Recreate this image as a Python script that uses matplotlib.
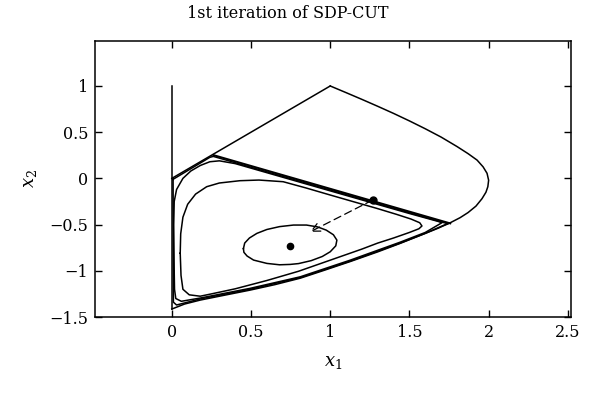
import matplotlib
matplotlib.use("Agg")
import matplotlib.pyplot as plt

plt.rcParams['font.family'] = ['DejaVu Serif']
plt.rcParams['mathtext.fontset'] = 'dejavuserif'

# Outer feasible region boundary
left_x = [0.0, 0.0]
left_y = [1.0, -1.414]
upper_x = [0.0, 1.0]
upper_y = [0.0, 1.0]
outer_x = [1.0, 1.1, 1.2, 1.3, 1.4, 1.5, 1.6, 1.7, 1.8, 1.87, 1.927, 1.965, 1.99, 2.0,
           1.995, 1.983, 1.958, 1.92, 1.87, 1.82, 1.76, 1.68, 1.6, 1.442, 1.3, 1.126, 0.97,
           0.811, 0.65, 0.494, 0.33, 0.179, 0.08, 0.0]
outer_y = [1.0, 0.928, 0.855, 0.78, 0.703, 0.622, 0.537, 0.447, 0.345, 0.268, 0.198, 0.125,
           0.055, -0.02, -0.09, -0.15, -0.22, -0.30, -0.37, -0.425, -0.478, -0.54, -0.595,
           -0.703, -0.795, -0.90, -0.99, -1.08, -1.15, -1.209, -1.265, -1.317, -1.36, -1.414]

# The cut
cut_x = [0.263, 1.758]
cut_y = [0.252, -0.487]

# Contours of the barrier inside the reduced region
c1_x = [0.008, 0.24, 0.262, 1.72, 1.745, 1.72, 1.6, 1.442, 1.126, 0.811, 0.494, 0.179, 0.03, 0.01, 0.008]
c1_y = [-0.01, 0.228, 0.238, -0.48, -0.49, -0.505, -0.595, -0.70, -0.895, -1.073, -1.20, -1.305, -1.37, -1.34, -0.01]
c2_x = [0.015, 0.012, 0.015, 0.03, 0.07, 0.12, 0.18, 0.24, 0.30, 0.40, 1.0, 1.5, 1.68, 1.705,
        1.69, 1.6, 1.442, 1.126, 0.811, 0.494, 0.179, 0.06, 0.025, 0.017, 0.015]
c2_y = [-1.0, -0.5, -0.25, -0.12, 0.0, 0.08, 0.14, 0.18, 0.19, 0.16, -0.135, -0.38, -0.465, -0.48,
        -0.495, -0.585, -0.69, -0.885, -1.065, -1.19, -1.295, -1.33, -1.30, -1.2, -1.0]
c3_x = [0.053, 0.056, 0.07, 0.10, 0.15, 0.22, 0.30, 0.43, 0.55, 0.703, 0.85, 1.0, 1.15, 1.295,
        1.42, 1.51, 1.565, 1.579, 1.56, 1.50, 1.40, 1.30, 1.2, 1.0, 0.8, 0.6, 0.4, 0.25, 0.179,
        0.11, 0.07, 0.058, 0.053]
c3_y = [-0.81, -0.60, -0.42, -0.28, -0.17, -0.09, -0.05, -0.025, -0.018, -0.036, -0.105, -0.18,
        -0.254, -0.325, -0.39, -0.44, -0.48, -0.515, -0.545, -0.585, -0.645, -0.70, -0.765, -0.885,
        -1.005, -1.105, -1.195, -1.25, -1.275, -1.26, -1.2, -1.05, -0.81]
c4_x = [0.452, 0.46, 0.49, 0.537, 0.60, 0.68, 0.768, 0.85, 0.92, 0.975, 1.02, 1.042, 1.035, 1.0,
        0.95, 0.88, 0.80, 0.747, 0.68, 0.60, 0.516, 0.475, 0.455, 0.452]
c4_y = [-0.76, -0.70, -0.645, -0.595, -0.553, -0.522, -0.505, -0.505, -0.525, -0.56, -0.61, -0.668,
        -0.73, -0.794, -0.845, -0.89, -0.922, -0.931, -0.935, -0.92, -0.884, -0.84, -0.80, -0.76]

# Points
cur_pt = (1.267, -0.235)
center_pt = (0.743, -0.731)
arrow_end = (0.874, -0.578)

fig = plt.figure(figsize=(6.0, 3.93), dpi=100)
ax = fig.add_axes([95/600, 1 - 317/393, (571-95)/600, (317-40.7)/393])

lw = 1.1
ax.plot(left_x, left_y, color='black', lw=lw)
ax.plot(upper_x, upper_y, color='black', lw=lw)
ax.plot(outer_x, outer_y, color='black', lw=lw)
ax.plot(cut_x, cut_y, color='black', lw=lw + 0.3)
for cx, cy in [(c1_x, c1_y), (c2_x, c2_y), (c3_x, c3_y), (c4_x, c4_y)]:
    ax.plot(cx, cy, color='black', lw=lw)

ax.plot([cur_pt[0]], [cur_pt[1]], 'o', color='black', ms=5)
ax.plot([center_pt[0]], [center_pt[1]], 'o', color='black', ms=4.5)
ax.annotate('', xy=arrow_end, xytext=cur_pt,
            arrowprops=dict(arrowstyle='->', linestyle=(0, (6, 3.5)), color='black', lw=0.9,
                            mutation_scale=15, shrinkA=0, shrinkB=0))

ax.set_xlim(-0.485, 2.52)
ax.set_ylim(-1.5, 1.49)
ax.set_xticks([0, 0.5, 1, 1.5, 2, 2.5])
ax.set_xticklabels(['0', '0.5', '1', '1.5', '2', '2.5'])
ax.set_yticks([-1.5, -1, -0.5, 0, 0.5, 1])
ax.set_yticklabels(['\u22121.5', '\u22121', '\u22120.5', '0', '0.5', '1'])
ax.tick_params(direction='in', top=True, right=True, labelsize=11.5, length=5, width=1, pad=5)
for s in ax.spines.values():
    s.set_linewidth(1.1)

ax.set_xlabel('$x_1$', fontsize=13, labelpad=9)
ax.set_ylabel('$x_2$', fontsize=13, labelpad=7)
fig.text(288/600, 1 - 14/393, '1st iteration of SDP-CUT', ha='center', va='center', fontsize=11.5)

fig.savefig('out.png', dpi=100)
